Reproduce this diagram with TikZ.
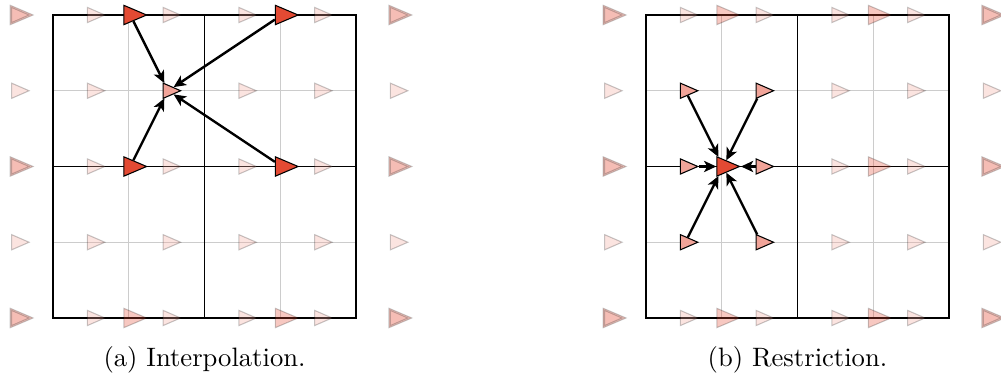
\documentclass[tikz,border=0pt]{standalone}
\usetikzlibrary{shapes.geometric,arrows.meta}
\definecolor{cellred}{HTML}{E34A33}
\tikzset{
  tri/.style={isosceles triangle, isosceles triangle stretches, inner sep=0pt,
    draw=black, line width=0.4pt},
  % minimum height runs along the apex axis, minimum width along the base
  coarsetri/.style={tri, minimum height=0.30cm, minimum width=0.255cm, fill=cellred},
  finetri/.style={tri, minimum height=0.23cm, minimum width=0.20cm, fill=cellred!50},
  hl0/.style={fill opacity=0.3, draw opacity=0.22},
  hl1/.style={},
  coarseline/.style={line width=0.5pt, black},
  fineline/.style={line width=0.4pt, black!20},
  flow/.style={line width=0.9pt, -{Stealth[length=4.6pt,width=4.2pt,inset=1.2pt]}},
  caption/.style={anchor=base, font=\normalsize}
}
\begin{document}
\begin{tikzpicture}
\useasboundingbox (-0.70,-0.792) rectangle (12.515,4.198);

% grids of both panels: fine lines under coarse lines
\foreach \sx in {0,7.828} {
  \draw[fineline, xshift=\sx cm] (1,0) -- (1,4) (3,0) -- (3,4) (0,1) -- (4,1) (0,3) -- (4,3);
  \draw[coarseline, xshift=\sx cm] (0,0) rectangle (4,4) (2,0) -- (2,4) (0,2) -- (4,2);
}

% left panel: coarse unknowns
\foreach \k/\x in {0/-0.5,1/1,2/3,3/4.5} {
  \foreach \j in {0,2,4} {
    \pgfmathtruncatemacro\on{((\k==1)||(\k==2))&&(\j>0)}
    \node[coarsetri, hl\on] (L-c-\k-\j) at (\x+0.02,\j) {};
  }
}
% left panel: fine unknowns
\foreach \i in {0,...,5} {
  \foreach \j in {0,...,4} {
    \pgfmathtruncatemacro\on{(\i==2)&&(\j==3)}
    \node[finetri, hl\on] (L-f-\i-\j) at (\i-0.5+0.02,\j) {};
  }
}

% right panel
\begin{scope}[xshift=7.828cm]
\foreach \k/\x in {0/-0.5,1/1,2/3,3/4.5} {
  \foreach \j in {0,2,4} {
    \pgfmathtruncatemacro\on{(\k==1)&&(\j==2)}
    \node[coarsetri, hl\on] (R-c-\k-\j) at (\x+0.02,\j) {};
  }
}
\foreach \i in {0,...,5} {
  \foreach \j in {0,...,4} {
    \pgfmathtruncatemacro\on{((\i==1)||(\i==2))&&(\j>0)&&(\j<4)}
    \node[finetri, hl\on] (R-f-\i-\j) at (\i-0.5+0.02,\j) {};
  }
}
\end{scope}

% interpolation: coarse values to one fine value
\foreach \k/\j in {1/4,2/4,1/2,2/2}
  \draw[flow] (L-c-\k-\j) -- (L-f-2-3);

% restriction: fine values to one coarse value
\foreach \i/\j in {1/3,2/3,1/2,2/2,1/1,2/1}
  \draw[flow] (R-f-\i-\j) -- (R-c-1-2);

\node[caption] (capa) at (2,-0.634) {(a) Interpolation.};
\node[caption] (capb) at (9.828,-0.634) {(b) Restriction.};
\end{tikzpicture}
\end{document}
